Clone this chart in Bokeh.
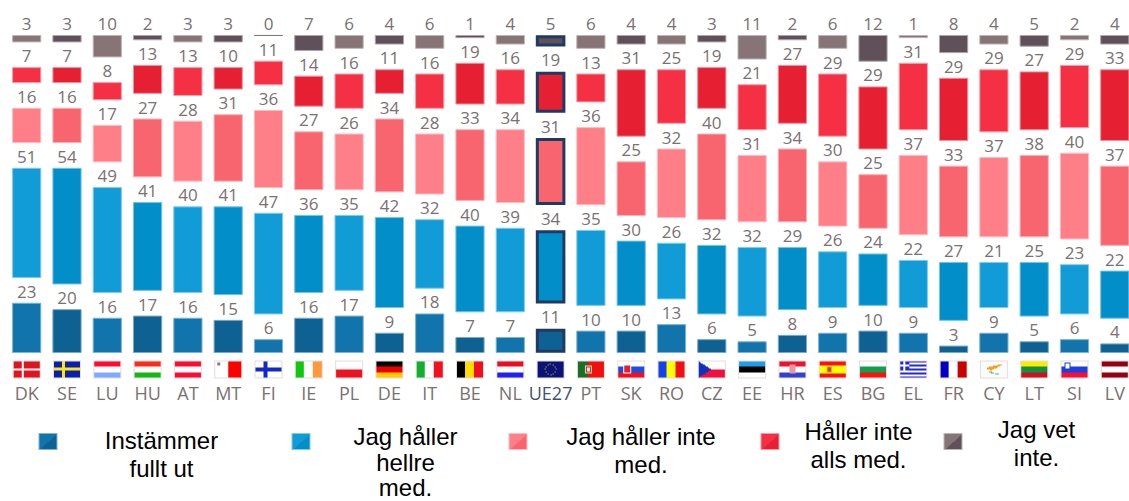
import numpy as np
from bokeh.plotting import figure
from bokeh.models import Range1d, ColumnDataSource
from bokeh.core.properties import value
from bokeh.embed import file_html
from bokeh.resources import INLINE

countries = ["DK","SE","LU","HU","AT","MT","FI","IE","PL","DE","IT","BE","NL","UE27","PT","SK","RO","CZ","EE","HR","ES","BG","EL","FR","CY","LT","SI","LV"]
fully_agree = [23,20,16,17,16,15,6,16,17,9,18,7,7,11,10,10,13,6,5,8,9,10,9,3,9,5,6,4]
tend_agree = [51,54,49,41,40,41,47,36,35,42,32,40,39,34,35,30,26,32,32,29,26,24,22,27,21,25,23,22]
tend_disagree = [16,16,17,27,28,31,36,27,26,34,28,33,34,31,36,25,32,40,31,34,30,25,37,33,37,38,40,37]
fully_disagree = [7,7,8,13,13,10,11,14,16,11,16,19,16,19,13,31,25,19,21,27,29,29,31,29,29,27,29,33]
dont_know = [3,3,10,2,3,3,0,7,6,4,6,1,4,5,6,4,4,3,11,2,6,12,1,8,4,5,2,4]
series = [fully_agree, tend_agree, tend_disagree, fully_disagree, dont_know]
legend_lines = [["Instämmer","fullt ut"],["Jag håller","hellre","med."],["Jag håller inte","med."],["Håller inte","alls med."],["Jag vet","inte."]]

light = ["#1274ac","#119cd8","#ff7f88","#f53044","#877476"]
dark = ["#0e6193","#028fc9","#f8656f","#e61f33","#5f5059"]
edge_l = ["#7fb2d2","#7fcbec","#ffbcc1","#fa9aa4","#c0b4b6"]
edge_d = ["#7aa8c6","#77c2e2","#fbb0b6","#f08f99","#aea5aa"]
NAVY = "#1f3a63"
TXT = "#7b7072"

W, H = 1129, 501
PX = 2.142          # px per percentage point
GAP = 12            # gap between segments, in points
X0, DX = 26.2, 40.3 # centre of first column and spacing (page px)
Y0 = 352            # page px of baseline

p = figure(width=W, height=H, output_backend="svg", toolbar_location=None,
           min_border=0, min_border_left=0, min_border_right=0, min_border_top=0, min_border_bottom=0,
           x_range=Range1d((0-X0)/DX, (W-X0)/DX), y_range=Range1d((Y0-H)/PX, Y0/PX))
p.axis.visible = False
p.grid.visible = False
p.outline_line_color = None
p.background_fill_color = None
p.border_fill_color = "#ffffff"

def dx(px): return (px-X0)/DX
def dy(py): return (Y0-py)/PX

xs = np.arange(len(countries))
eu = countries.index("UE27")
base = np.zeros(len(countries))
for s, vals in enumerate(series):
    vals = np.array(vals, float)
    top = base + vals
    fill = [dark[s] if i % 2 else light[s] for i in xs]
    edge = [edge_d[s] if i % 2 else edge_l[s] for i in xs]
    edge = [fill[i] if vals[i] == 0 else edge[i] for i in xs]
    mask = xs != eu
    src = ColumnDataSource(dict(x=xs[mask], b=base[mask], t=top[mask],
                                f=np.array(fill)[mask], e=np.array(edge)[mask]))
    p.vbar(x="x", bottom="b", top="t", width=0.70, fill_color="f", line_color="e", line_width=1, source=src)
    p.vbar(x=[eu], bottom=[base[eu]+0.6], top=[top[eu]-0.6], width=0.66, fill_color=fill[eu],
           line_color=NAVY, line_width=3, line_join="miter")
    p.text(x=xs, y=top, text=[str(int(v)) for v in vals], text_align="center", text_baseline="middle",
           y_offset=-11.5, text_font=value("Open Sans"), text_font_size="17px", text_color=TXT)
    base = top + GAP

# country codes
p.text(x=xs, y=[dy(392)]*len(xs), text=countries, text_align="center", text_baseline="middle",
       text_font=value("Open Sans"), text_font_size="18px",
       text_color=[("#44506e" if c == "UE27" else TXT) for c in countries])

# flags ------------------------------------------------------------------
FW, FH = 28, 18
def C(h):
    h = h.lstrip("#")
    return (int(h[0:2],16), int(h[2:4],16), int(h[4:6],16))
def hstripes(*cols):
    a = np.zeros((FH,FW,3),np.uint8)
    n = len(cols)
    for i,c in enumerate(cols):
        a[i*FH//n:(i+1)*FH//n,:] = C(c)
    return a
def vstripes(*cols):
    a = np.zeros((FH,FW,3),np.uint8)
    n = len(cols)
    for i,c in enumerate(cols):
        a[:,i*FW//n:(i+1)*FW//n] = C(c)
    return a
def cross(bg, fg, w=3):
    a = hstripes(bg)
    a[(FH-w)//2:(FH-w)//2+w,:] = C(fg)
    a[:,9:9+w] = C(fg)
    return a
def crest(a, x0, y0, w, h, c1="#e8e8f0", c2="#d03030"):
    a[y0:y0+h,x0:x0+w] = C(c1)
    a[y0+1:y0+h-1,x0+1:x0+w-1] = C(c2)
    return a

flags = {}
flags["DK"] = cross("#e0141f","#ffffff",2)
flags["SE"] = cross("#0a1fb0","#ffe60a",3)
flags["LU"] = hstripes("#ff0a33","#ffffff","#80a8ff")
flags["HU"] = hstripes("#ff2a1a","#ffffff","#14b814")
flags["AT"] = hstripes("#ff0a33","#ffffff","#ff0a33")
a = vstripes("#ffffff","#ff0000"); a[:,12:] = C("#ff0000"); a[:,:14] = C("#ffffff"); a[2:5,3:6] = C("#808080"); flags["MT"] = a
flags["FI"] = cross("#ffffff","#1428c8",4)
flags["IE"] = vstripes("#10c810","#ffffff","#ff9a3c")
flags["PL"] = hstripes("#ffffff","#f01020")
flags["DE"] = hstripes("#000000","#ee0000","#ffcc00")
flags["IT"] = vstripes("#10b030","#ffffff","#f01020")
flags["BE"] = vstripes("#000000","#ffdd00","#ee1020")
flags["NL"] = hstripes("#e81020","#ffffff","#2020f0")
a = hstripes("#0a1478")
for k in range(12):
    t = 2*np.pi*k/12
    a[int(round(8.5+5.5*np.sin(t))), int(round(13.5+5.5*np.cos(t)))] = C("#e8d020")
flags["UE27"] = a
a = np.zeros((FH,FW,3),np.uint8); a[:] = C("#f01010"); a[:,:11] = C("#1a6e2a")
crest(a,8,5,7,8,"#e8d8a0","#c03030"); a[7:11,10:13] = C("#e8e8f0"); flags["PT"] = a
flags["SK"] = crest(hstripes("#ffffff","#1a50e0","#f01020"),6,4,8,9,"#ffffff","#e02030")
flags["RO"] = vstripes("#1440f0","#ffff00","#f01010")
a = hstripes("#ffffff","#f0103a")
for r in range(FH):
    a[r,:int(14-abs(r-8.5)*14/9)] = C("#1030c0")
flags["CZ"] = a
flags["EE"] = hstripes("#1aa0e8","#000000","#ffffff")
a = hstripes("#f01030","#ffffff","#3040d0")
for r in range(4,13):
    for c in range(11,17):
        a[r,c] = C("#d03040") if (r+c)%2 else C("#ffffff")
flags["HR"] = a
a = np.zeros((FH,FW,3),np.uint8); a[:] = C("#ff1010"); a[5:13] = C("#ffff00")
crest(a,8,6,5,6,"#e09030","#c04020"); flags["ES"] = a
flags["BG"] = hstripes("#ffffff","#10a050","#ff1010")
a = np.zeros((FH,FW,3),np.uint8)
for r in range(FH):
    a[r] = C("#2028d0") if (r*9//FH)%2==0 else C("#ffffff")
a[:10,:10] = C("#2028d0"); a[4:6,:10] = C("#ffffff"); a[:10,4:6] = C("#ffffff")
flags["EL"] = a
flags["FR"] = vstripes("#0000c8","#ffffff","#c80000")
a = hstripes("#fbfbfb")
for r,(c0,c1) in {4:(18,22),5:(13,20),6:(9,18),7:(7,17),8:(7,14),9:(10,12)}.items():
    a[r,c0:c1] = C("#f0a020")
for r,(c0,c1) in {11:(9,12),12:(11,14),13:(15,19)}.items():
    a[r,c0:c1] = C("#60b060")
flags["CY"] = a
flags["LT"] = hstripes("#ffea00","#109040","#d01020")
flags["SI"] = crest(hstripes("#ffffff","#1a40e0","#ff0a30"),4,2,6,7,"#2040c0","#ffffff")
flags["LV"] = hstripes("#960010","#ffffff","#960010")

def to_rgba(a, border=None):
    a = a.copy()
    if border is not None:
        c = C(border)
        a[0,:] = c; a[-1,:] = c; a[:,0] = c; a[:,-1] = c
    rgba = np.empty(a.shape[:2], np.uint32)
    v = rgba.view(np.uint8).reshape(a.shape[0], a.shape[1], 4)
    v[...,:3] = a; v[...,3] = 255
    return rgba[::-1]

imgs = [to_rgba(flags[c], "#e6dede") for c in countries]
fl_top = dy(360); fl_bot = dy(378)
p.image_rgba(image=imgs, x=list(xs-FW/2/DX), y=[fl_bot]*len(xs), dw=[FW/DX]*len(xs), dh=[fl_top-fl_bot]*len(xs))

# legend -----------------------------------------------------------------
sw_x = [38, 291, 508, 760, 943]
sw_y = 432.5
leg_cx = [161, 405, 640.5, 858, 1036]
leg_y0 = [440, 436, 436, 431, 429]   # centre of the first line
leg_dy = [27.5, 25.5, 27.5, 27.5, 27.5]  # line spacing
SW, SH = 19, 17
sw_imgs = []
for s in range(5):
    a = np.zeros((SH,SW,3),np.uint8)
    for r in range(SH):
        for c in range(SW):
            a[r,c] = C(light[s]) if (c/SW + r/SH) < 1 else C(dark[s])
    sw_imgs.append(to_rgba(a, edge_l[s]))
p.image_rgba(image=sw_imgs, x=[dx(v) for v in sw_x], y=[dy(sw_y+SH)]*5, dw=[SW/DX]*5, dh=[SH/PX]*5)

tx, ty, tt = [], [], []
for s, lines in enumerate(legend_lines):
    for k, line in enumerate(lines):
        tx.append(dx(leg_cx[s])); ty.append(dy(leg_y0[s]+k*leg_dy[s])); tt.append(line)
p.text(x=tx, y=ty, text=tt, text_align="center", text_baseline="middle",
       text_font=value("Liberation Sans"), text_font_size="24px", text_color="#000000")

open("out.html", "w").write(file_html(p, INLINE))
